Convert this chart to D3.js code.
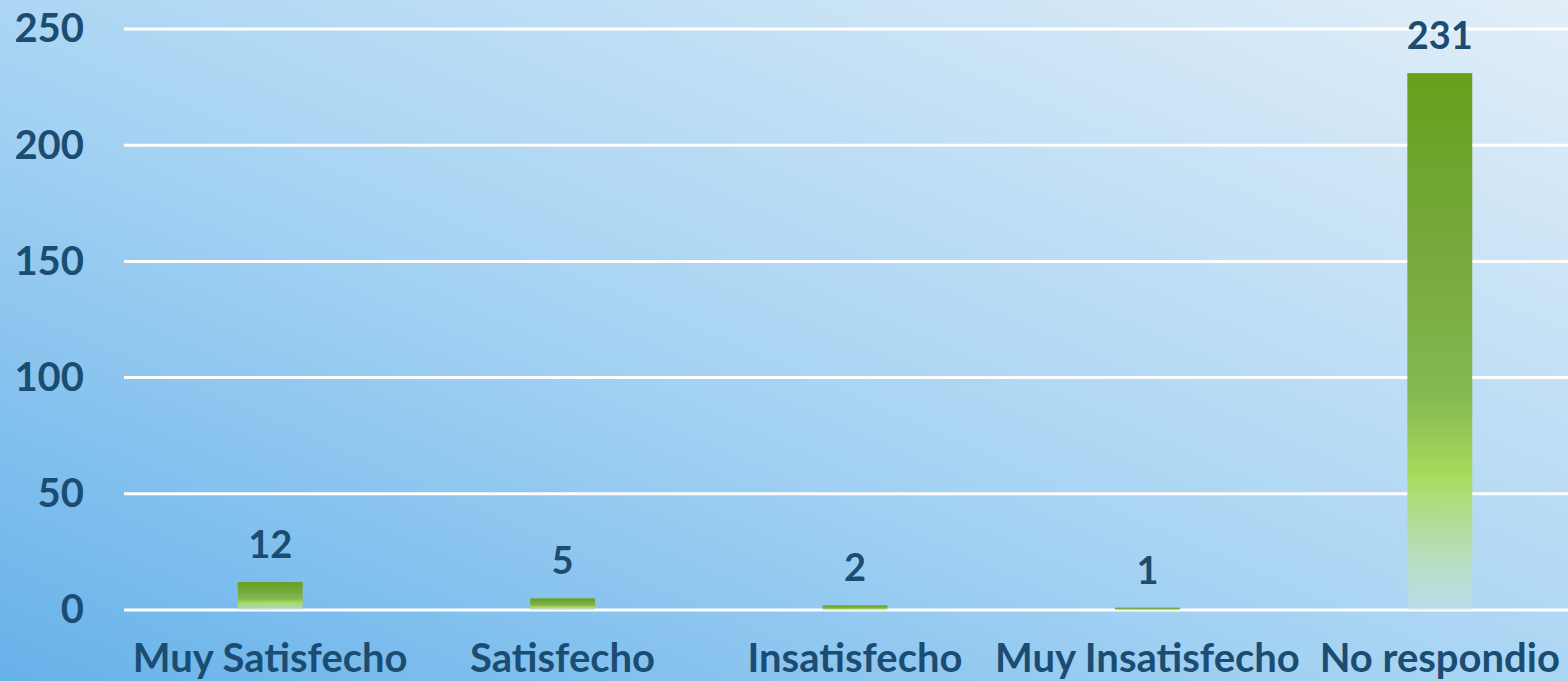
<!DOCTYPE html>
<html>
<head>
<meta charset="utf-8">
<script src="https://cdn.jsdelivr.net/npm/d3@7"></script>
<style>
  html, body { margin: 0; padding: 0; overflow: hidden; }
  svg { display: block; font-family: "Lato", "DejaVu Sans", sans-serif; font-weight: 700; }
</style>
</head>
<body>
<svg id="chart"></svg>
<script>
// data
const categories = ['Muy Satisfecho', 'Satisfecho', 'Insatisfecho', 'Muy Insatisfecho', 'No respondio'];
const values = [12, 5, 2, 1, 231];
const yTicks = [0, 50, 100, 150, 200, 250];

const width = 1568, height = 681,
    margin = { top: 29, right: -18, bottom: 71, left: 124 };

const svg = d3.select('#chart')
    .attr('width', width)
    .attr('height', height);

const defs = svg.append('defs');

// background: darker blue bottom-left, pale top-right
const bg = defs.append('linearGradient')
    .attr('id', 'bg')
    .attr('x1', '0%').attr('y1', '100%')
    .attr('x2', '100%').attr('y2', '0%');
bg.append('stop').attr('offset', '0%').attr('stop-color', '#67b2ea');
bg.append('stop').attr('offset', '45%').attr('stop-color', '#a6d3f3');
bg.append('stop').attr('offset', '100%').attr('stop-color', '#e2eef8');

// bar fill: dark green top, bright green lower, fading out at the base
const barGrad = defs.append('linearGradient')
    .attr('id', 'barGrad')
    .attr('x1', 0).attr('y1', 0).attr('x2', 0).attr('y2', 1);
barGrad.append('stop').attr('offset', '0%').attr('stop-color', '#67a01c');
barGrad.append('stop').attr('offset', '35%').attr('stop-color', '#77a93f');
barGrad.append('stop').attr('offset', '60%').attr('stop-color', '#86b852');
barGrad.append('stop').attr('offset', '75%').attr('stop-color', '#a6dc5c');
barGrad.append('stop').attr('offset', '88%').attr('stop-color', '#b6dea0').attr('stop-opacity', 0.8);
barGrad.append('stop').attr('offset', '100%').attr('stop-color', '#c4e4dc').attr('stop-opacity', 0.5);

svg.append('rect')
    .attr('width', width).attr('height', height)
    .attr('fill', 'url(#bg)');

const x = d3.scaleBand()
    .domain(categories)
    .range([margin.left, width - margin.right])
    .paddingInner(0.778)
    .paddingOuter(0.389);

const y = d3.scaleLinear()
    .domain([0, 250])
    .range([height - margin.bottom, margin.top]);

const textColor = '#1b4d72';

// gridlines
svg.append('g')
    .selectAll('line')
    .data(yTicks)
    .join('line')
    .attr('x1', margin.left)
    .attr('x2', width)
    .attr('y1', d => y(d))
    .attr('y2', d => y(d))
    .attr('stroke', '#ffffff')
    .attr('stroke-width', 3);

// y axis labels
const yAxis = svg.append('g')
    .attr('transform', `translate(${margin.left - 40},0)`)
    .call(d3.axisLeft(y).tickValues(yTicks).tickSize(0).tickPadding(0));
yAxis.select('.domain').remove();
yAxis.selectAll('text')
    .attr('fill', textColor)
    .attr('font-size', 40)
    .attr('font-family', '"Lato", "DejaVu Sans", sans-serif')
    .attr('font-weight', 700);

// bars
svg.append('g')
    .selectAll('rect')
    .data(values)
    .join('rect')
    .attr('x', (d, i) => x(categories[i]))
    .attr('width', x.bandwidth())
    .attr('y', d => y(d))
    .attr('height', d => y(0) - y(d))
    .attr('fill', 'url(#barGrad)');

// value labels
svg.append('g')
    .selectAll('text')
    .data(values)
    .join('text')
    .attr('x', (d, i) => x(categories[i]) + x.bandwidth() / 2)
    .attr('y', d => y(d) - 24)
    .attr('text-anchor', 'middle')
    .attr('fill', textColor)
    .attr('font-size', 38)
    .text(d => d);

// x axis labels (bottoms are clipped by the frame, like the original)
const xAxis = svg.append('g')
    .attr('transform', `translate(0,${y(0)})`)
    .call(d3.axisBottom(x).tickSize(0));
xAxis.select('.domain').remove();
xAxis.selectAll('text')
    .attr('y', 62)
    .attr('dy', 0)
    .attr('fill', textColor)
    .attr('font-size', 40)
    .attr('font-family', '"Lato", "DejaVu Sans", sans-serif')
    .attr('font-weight', 700);
</script>
</body>
</html>
